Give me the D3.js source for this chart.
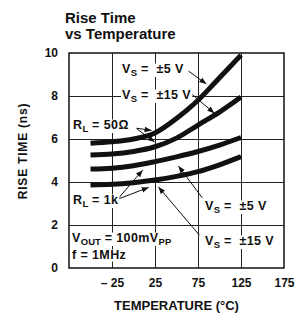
<!DOCTYPE html>
<html>
<head>
<meta charset="utf-8">
<script src="https://cdn.jsdelivr.net/npm/d3@7"></script>
<style>
  body { margin: 0; background: #fff; }
  text { font-family: "Liberation Sans", Arial, sans-serif; font-weight: bold; fill: #111; white-space: pre; }
</style>
</head>
<body>
<div id="chart"></div>
<script>
// rise time (ns), one array per curve
const temps = [-50, -25, 0, 25, 50, 75, 100, 125]
const rise5v50 = [5.8, 5.87, 6.0, 6.28, 6.95, 7.8, 8.85, 9.9]
const rise15v50 = [5.26, 5.3, 5.42, 5.64, 6.04, 6.65, 7.25, 7.95]
const rise5v1k = [4.6, 4.64, 4.76, 4.95, 5.17, 5.42, 5.72, 6.07]
const rise15v1k = [3.86, 3.89, 3.97, 4.09, 4.26, 4.48, 4.8, 5.18]

const xTicks = [-25, 25, 75, 125, 175]
const xTickLabels = ["\u2013 25", "25", "75", "125", "175"]
const yTicks = [0, 2, 4, 6, 8, 10]

const width = 295, height = 316
const margin = { top: 53, right: 11, bottom: 48, left: 69 }
const w = width - margin.left - margin.right
const h = height - margin.top - margin.bottom

const svg = d3.select("#chart").append("svg")
    .attr("width", width)
    .attr("height", height)

svg.append("defs").append("marker")
    .attr("id", "arr")
    .attr("viewBox", "0 0 10 10")
    .attr("refX", 10).attr("refY", 5)
    .attr("markerWidth", 7).attr("markerHeight", 7)
    .attr("markerUnits", "userSpaceOnUse")
    .attr("orient", "auto")
    .append("path").attr("d", "M0,1L10,5L0,9Z").attr("fill", "#111")

const x = d3.scaleLinear().domain([-75, 175]).range([0, w])
const y = d3.scaleLinear().domain([0, 10]).range([h, 0])

const g = svg.append("g").attr("transform", `translate(${margin.left},${margin.top})`)

// grid
g.append("g")
    .attr("transform", `translate(0,${h})`)
    .call(d3.axisBottom(x).tickValues([-25, 25, 75, 125]).tickSize(-h).tickFormat(""))
    .call(a => a.select(".domain").remove())
    .selectAll("line").attr("stroke", "#222")
g.append("g")
    .call(d3.axisLeft(y).tickValues([2, 4, 6, 8]).tickSize(-w).tickFormat(""))
    .call(a => a.select(".domain").remove())
    .selectAll("line").attr("stroke", "#222")

// tick labels
g.append("g")
    .attr("transform", `translate(0,${h})`)
    .call(d3.axisBottom(x).tickValues(xTicks).tickSize(0).tickPadding(10.5)
        .tickFormat((d, i) => xTickLabels[i]))
    .call(a => a.select(".domain").remove())
    .selectAll("text").attr("font-size", 12).attr("font-family", null).attr("fill", null)
g.append("g")
    .call(d3.axisLeft(y).tickValues(yTicks).tickSize(0).tickPadding(11))
    .call(a => a.select(".domain").remove())
    .selectAll("text").attr("font-size", 12).attr("font-family", null).attr("fill", null)

// annotations: text in pixels, arrows in data units
const labels = [
    { x: 122, y: 73, parts: ["V", "S", " =  \u00b15 V"], arrows: [[64, 9.16, 84.7, 8.56]] },
    { x: 122, y: 99, parts: ["V", "S", " =  \u00b115 V"], arrows: [[67.4, 8.1, 94, 7.2]] },
    { x: 73, y: 129, parts: ["R", "L", " = 50\u03a9"], arrows: [[3.7, 6.5, 21, 6.4], [3.7, 6.48, 24.5, 5.86]] },
    { x: 73, y: 204, parts: ["R", "L", " = 1k"], arrows: [[-18.3, 3.21, 10.6, 4.55], [-18.3, 3.2, 17.6, 3.75]] },
    { x: 205, y: 210, parts: ["V", "S", " =  \u00b15 V"], arrows: [[80, 3.26, 52.3, 4.74]] },
    { x: 205, y: 245, parts: ["V", "S", " =  \u00b115 V"], arrows: [[76.6, 1.53, 29, 3.77]] },
    { x: 72, y: 242, parts: ["V", "OUT", " = 100mV", "PP"], arrows: [] },
    { x: 72, y: 259, parts: ["f = 1MHz"], arrows: [] }
]

const ann = svg.append("g")
labels.forEach(l => {
    const t = ann.append("text").attr("x", l.x).attr("y", l.y).attr("font-size", 12.5)
    l.parts.forEach((p, i) => {
        const sub = i % 2 == 1
        t.append("tspan")
            .attr("font-size", sub ? 9.5 : 12.5)
            .attr("letter-spacing", sub ? 0 : 0.4)
            .attr("dy", i == 0 ? 0 : (sub ? 2.5 : -2.5))
            .text(p)
    })
    const b = t.node().getBBox()
    ann.insert("rect", () => t.node())
        .attr("x", b.x - 1).attr("y", b.y + 1.5)
        .attr("width", b.width + 2).attr("height", b.height - 2)
        .attr("fill", "#fff")
})

// curves
const line = d3.line()
    .x((d, i) => x(temps[i]))
    .y(d => y(d))
    .curve(d3.curveMonotoneX)

g.selectAll(".curve")
    .data([rise5v50, rise15v50, rise5v1k, rise15v1k])
    .enter()
    .append("path")
    .attr("class", "curve")
    .attr("d", line)
    .attr("fill", "none")
    .attr("stroke", "#111")
    .attr("stroke-width", 5)

labels.forEach(l => {
    l.arrows.forEach(a => {
        g.append("line")
            .attr("x1", x(a[0])).attr("y1", y(a[1]))
            .attr("x2", x(a[2])).attr("y2", y(a[3]))
            .attr("stroke", "#111")
            .attr("stroke-width", 1)
            .attr("marker-end", "url(#arr)")
    })
})

// frame
g.append("rect")
    .attr("width", w).attr("height", h)
    .attr("fill", "none").attr("stroke", "#111").attr("stroke-width", 1.5)

// titles
svg.append("text").attr("x", 65).attr("y", 23).attr("font-size", 15).text("Rise Time")
svg.append("text").attr("x", 65).attr("y", 39).attr("font-size", 15).text("vs Temperature")

svg.append("text")
    .attr("x", margin.left + x(50)).attr("y", 310)
    .attr("text-anchor", "middle").attr("font-size", 13)
    .text("TEMPERATURE (\u00b0C)")

svg.append("text")
    .attr("transform", `translate(27,151) rotate(-90)`)
    .attr("text-anchor", "middle").attr("font-size", 12)
    .attr("letter-spacing", 0.8)
    .text("RISE TIME (ns)")
</script>
</body>
</html>
